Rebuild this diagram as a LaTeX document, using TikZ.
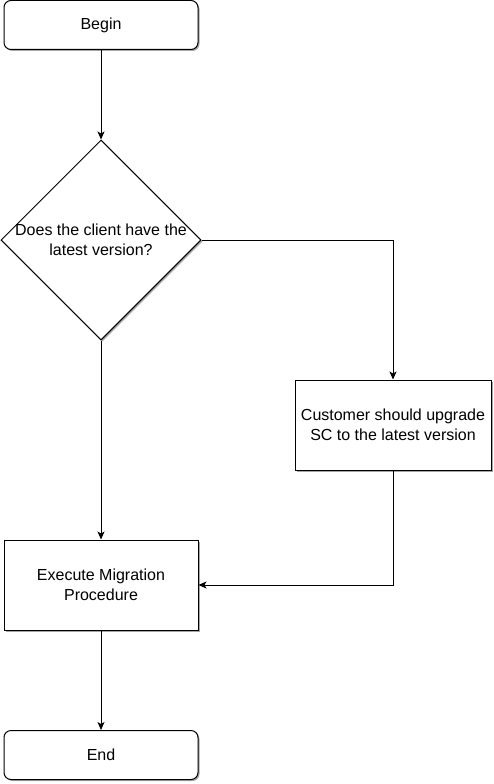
\documentclass[tikz,border=0pt]{standalone}
\usepackage{fontspec}
\setmainfont{Liberation Sans}
\usetikzlibrary{shapes.geometric,arrows.meta,shadows}

\tikzset{
    flowshadow/.style={drop shadow={shadow xshift=1.5pt,shadow yshift=-1.5pt,fill=black!50,opacity=0.7}},
    terminal/.style={draw, rounded corners=7pt, minimum width=194pt, minimum height=49pt, fill=white, flowshadow},
    process/.style={draw, minimum width=194pt, minimum height=90pt, fill=white, flowshadow, align=center},
    decision/.style={draw, diamond, aspect=1, minimum width=200pt, minimum height=200pt, inner sep=-5pt, fill=white, flowshadow, align=center},
    flow/.style={-{Stealth[length=8pt,width=7pt,inset=2pt]}}
}

\begin{document}
\begin{tikzpicture}[x=1pt, y=-1pt, line width=1pt, every node/.style={font=\fontsize{16}{20}\selectfont}]
    \useasboundingbox (0,0) rectangle (493,784);

    % Start and decision
    \node[terminal] (begin) at (101,25) {Begin};
    \node[decision] (check) at (101,240) {Does the client have the\\latest version?};

    % Process boxes
    \node[process, minimum width=196pt] (upgrade) at (393,425) {Customer should upgrade\\SC to the latest version};
    \node[process] (migrate) at (101,585) {Execute Migration\\Procedure};

    % End
    \node[terminal] (finish) at (101,755) {End};

    % Connectors
    \draw[flow] (begin) -- (check);
    \draw[flow] (check.east) -| (upgrade.north);
    \draw[flow] (check.south) -- (migrate.north);
    \draw[flow] (upgrade.south) |- (migrate.east);
    \draw[flow] (migrate) -- (finish);
\end{tikzpicture}
\end{document}
